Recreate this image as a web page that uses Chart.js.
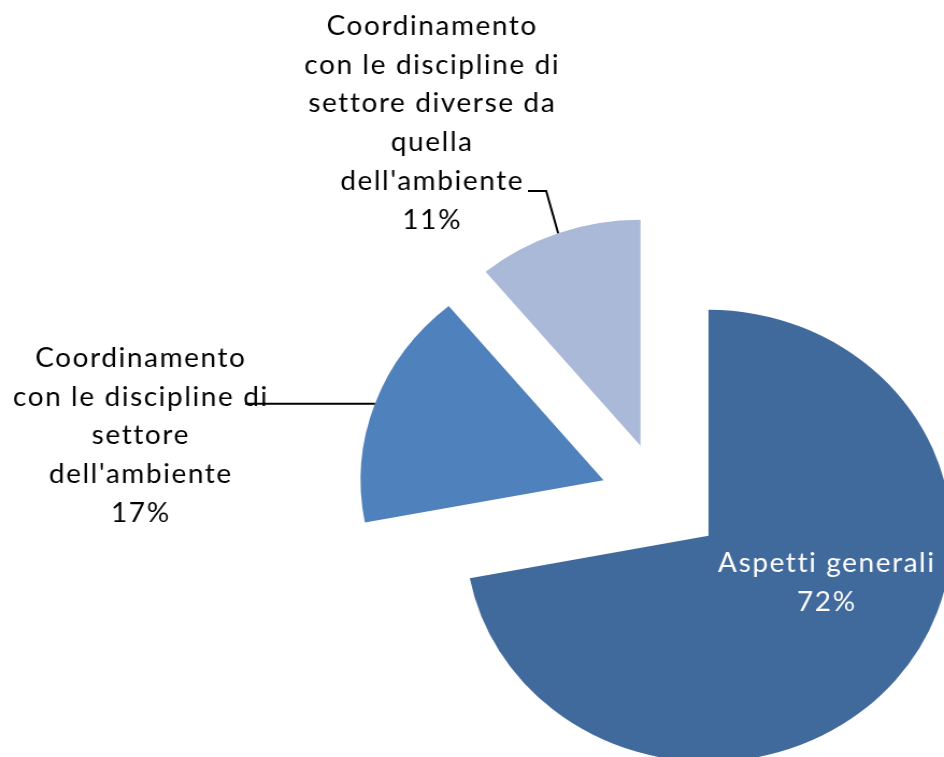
<!DOCTYPE html>
<html>
<head>
<meta charset="utf-8">
<script src="https://cdn.jsdelivr.net/npm/chart.js@4.4.0/dist/chart.umd.min.js"></script>
<style>
html, body { margin: 0; padding: 0; background: #fff; overflow: hidden; }
canvas { display: block; }
</style>
</head>
<body>
<!-- the original chart is a bit wider than tall, so the canvas is stretched a little -->
<canvas id="pie" width="878" height="757" style="width:944px;height:757px"></canvas>
<script>
// data
var categories = [
    ["Aspetti generali"],
    ["Coordinamento", "con le discipline di", "settore", "dell'ambiente"],
    ["Coordinamento", "con le discipline di", "settore diverse da", "quella", "dell'ambiente"]
];
var values = [72, 17, 11];
var percentLabels = ["72%", "17%", "11%"];
var colors = ["#416A9C", "#4F81BD", "#AAB9D7"];

// where each label block sits (center x, first baseline) and its leader elbow, canvas units
var labelLayout = [
    {x: 769, y: 572, color: "#ffffff", leader: null},
    {x: 131, y: 367, color: "#000000", leader: [[228, null]]},
    {x: 402, y: 35, color: "#000000", leader: [[508, 191], [491, 191]]}
];
var lineHeight = 38.7;
var pieRadius = 226;
var explode = 57; // px each slice is pulled out

// chart.js grows exploded slices and trims their angle, undo that so the slices keep their true shape
var evenRadius = {
    id: "evenRadius",
    afterDatasetsUpdate: function(chart) {
        var meta = chart.getDatasetMeta(0);
        meta.data.forEach(function(arc) {
            var off = (arc.options.offset || 0) / 4;
            var fix = 1 - Math.sin(Math.min(Math.PI, arc.circumference || 0));
            var ro = off * fix;
            arc.outerRadius = pieRadius - ro;
            var a = ro / (Math.PI * pieRadius) / 2;
            arc.startAngle -= a;
            arc.endAngle += a;
        });
    }
};

var labelPlugin = {
    id: "sliceLabels",
    afterDatasetsDraw: function(chart) {
        var ctx = chart.ctx;
        var meta = chart.getDatasetMeta(0);
        ctx.save();
        ctx.font = "26px Lato";
        ctx.letterSpacing = "1.5px";
        ctx.textAlign = "center";
        ctx.textBaseline = "alphabetic";
        for (var i = 0; i < meta.data.length; i++) {
            var arc = meta.data[i];
            var lay = labelLayout[i];
            var mid = (arc.startAngle + arc.endAngle) / 2;
            var off = arc.options.offset / 4;
            var cx = arc.x + Math.cos(mid) * off;
            var cy = arc.y + Math.sin(mid) * off;
            if (lay.leader) {
                var px = cx + Math.cos(mid) * pieRadius;
                var py = cy + Math.sin(mid) * pieRadius;
                ctx.beginPath();
                ctx.strokeStyle = "#000";
                ctx.lineWidth = 2;
                ctx.moveTo(px, py);
                for (var k = 0; k < lay.leader.length; k++) {
                    var p = lay.leader[k];
                    ctx.lineTo(p[0], p[1] === null ? py : p[1]);
                }
                ctx.stroke();
            }
            var lines = categories[i].concat([percentLabels[i]]);
            ctx.fillStyle = lay.color;
            for (var j = 0; j < lines.length; j++) {
                ctx.fillText(lines[j], lay.x, lay.y + j * lineHeight);
            }
        }
        ctx.restore();
    }
};

var ctx1 = document.getElementById("pie");
var chart1 = new Chart(ctx1, {
    type: "pie",
    data: {
        labels: categories.map(function(c) { return c.join(" "); }),
        datasets: [{
            data: values,
            backgroundColor: colors,
            borderWidth: 0,
            offset: explode * 4,
            radius: pieRadius,
            clip: false
        }]
    },
    options: {
        responsive: false,
        animation: false,
        layout: {padding: {left: 352, top: 242, right: 0, bottom: 0}},
        plugins: {
            legend: {display: false},
            tooltip: {enabled: false}
        }
    },
    plugins: [evenRadius, labelPlugin]
});
</script>
</body>
</html>
